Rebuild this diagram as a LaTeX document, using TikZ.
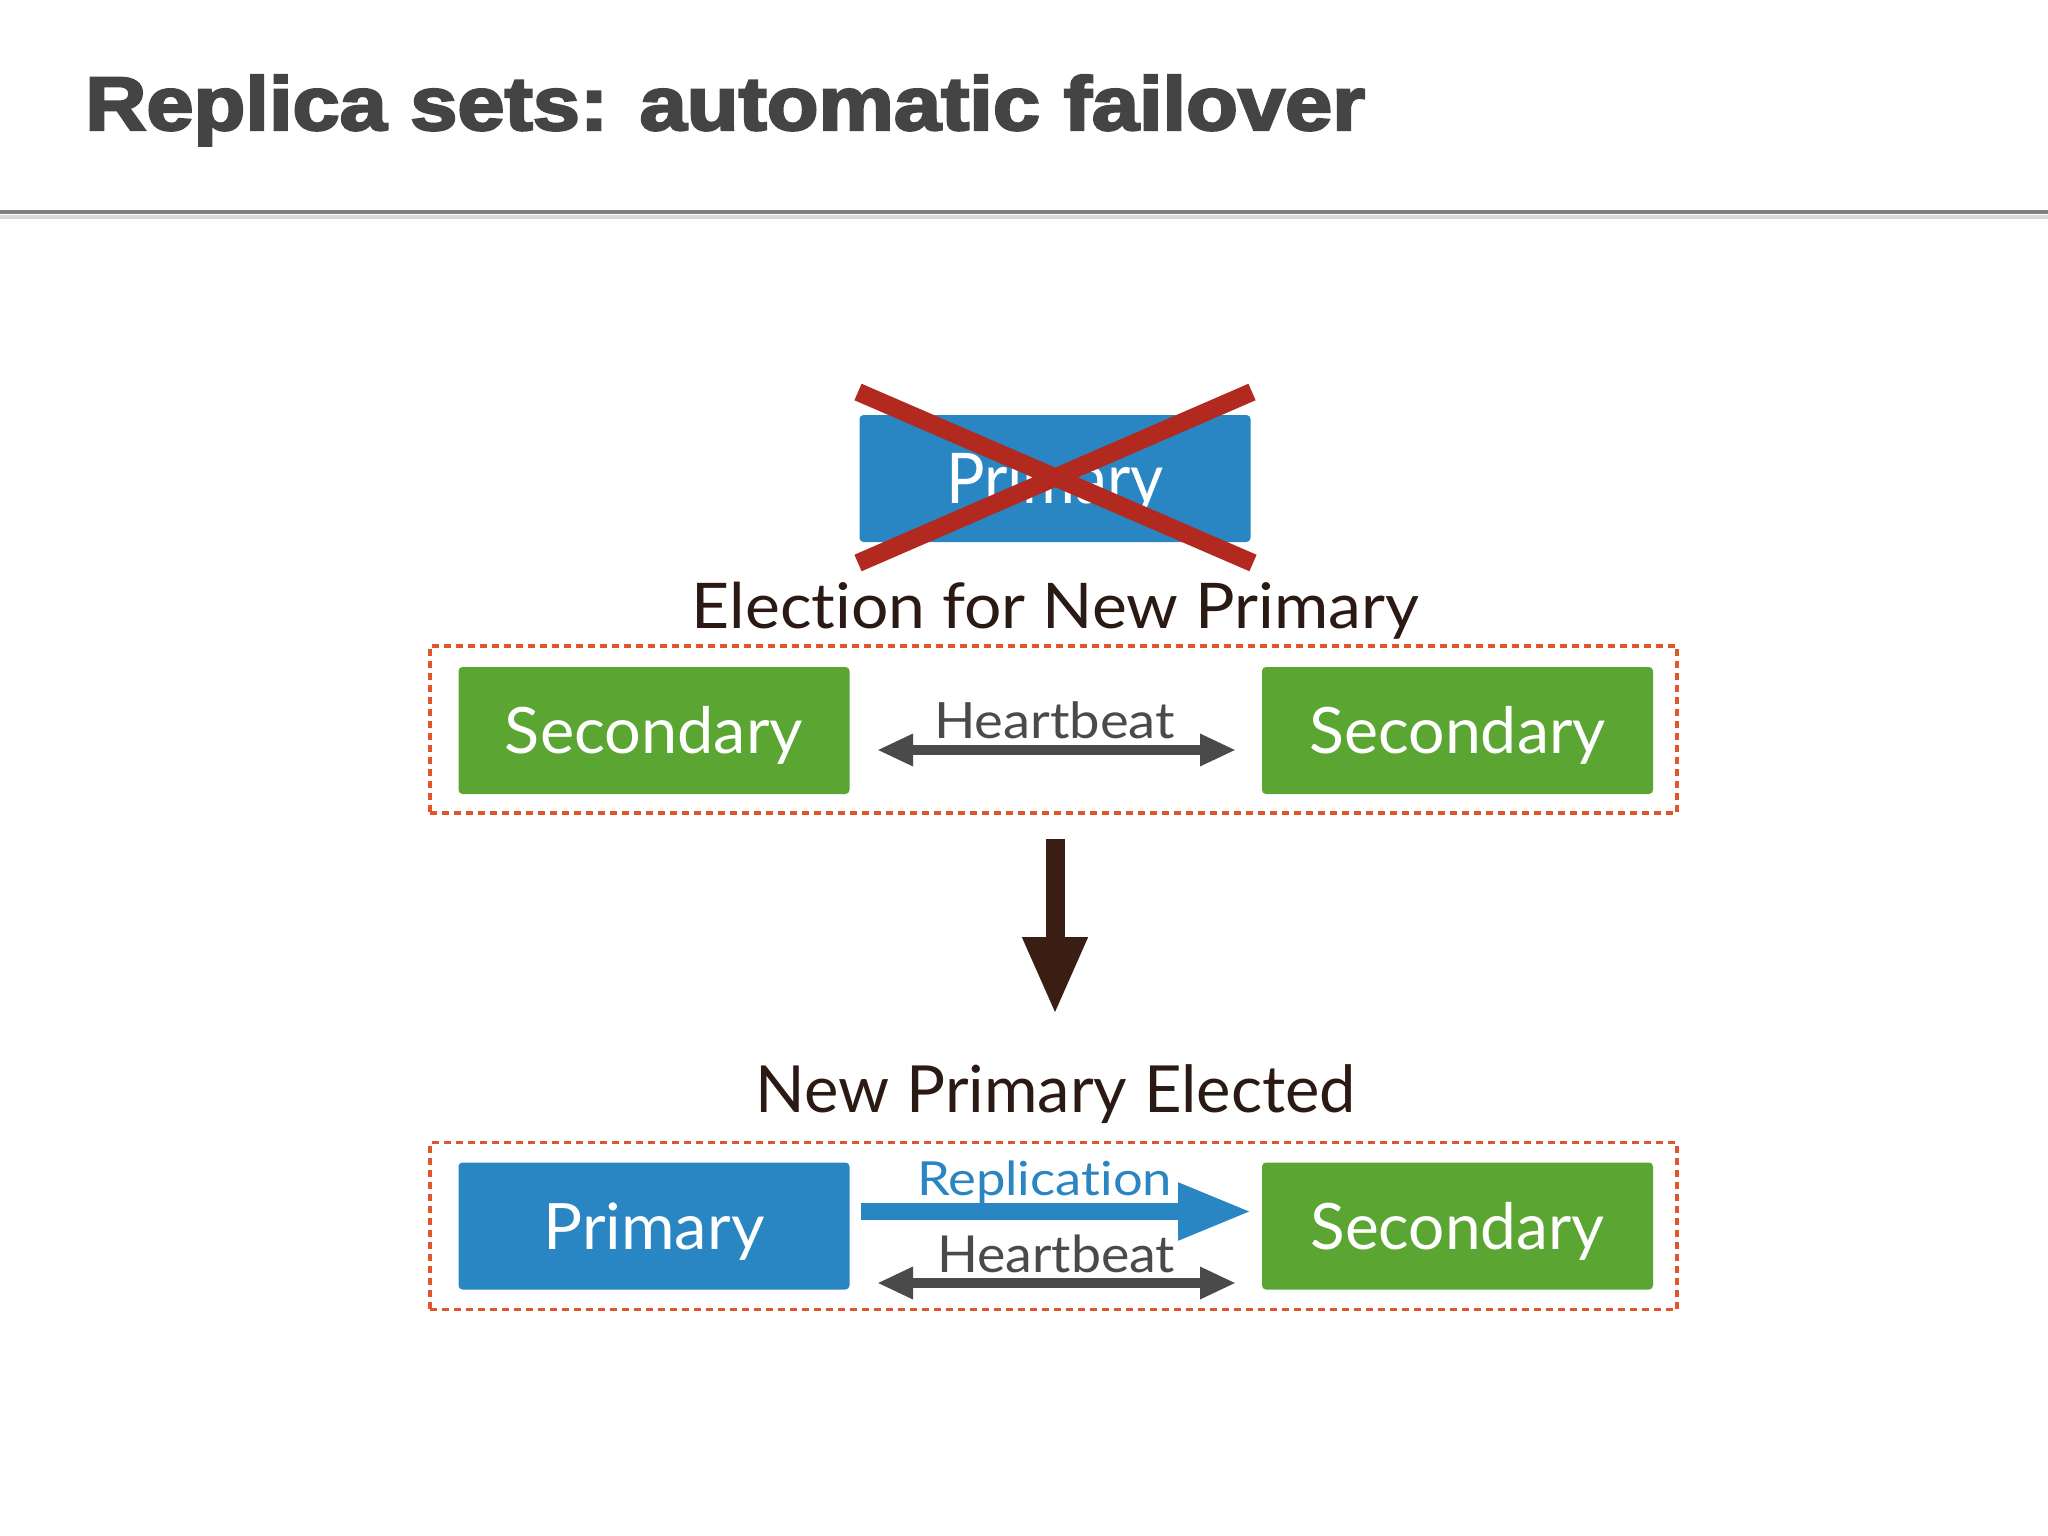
\documentclass[tikz,border=0pt]{standalone}
\usepackage{fontspec}
\usepackage{graphicx}
\usetikzlibrary{arrows.meta}
\setmainfont{Lato}[Ligatures=NoCommon]
\newfontfamily\titlefont{Liberation Sans}[BoldFeatures={FakeBold=3}]
\definecolor{mblue}{HTML}{2A86C3}
\definecolor{mgreen}{HTML}{5BA532}
\definecolor{xred}{HTML}{B2291F}
\definecolor{dashred}{HTML}{E0552C}
\definecolor{titlegray}{HTML}{444444}
\definecolor{hbgray}{HTML}{4A4A4A}
\definecolor{mdark}{HTML}{2B1A14}
\definecolor{arrowbrown}{HTML}{3A1E14}
\newcommand\fitw[2]{\resizebox{#1pt}{\height}{#2}}
\begin{document}
\begin{tikzpicture}[x=1pt,y=-1pt,
  box/.style={rectangle, rounded corners=4pt, minimum width=391pt, minimum height=127pt,
    inner sep=0pt, text=white, font=\fontsize{64}{64}\selectfont, text height=46pt, text depth=0pt},
  bluebox/.style={box, fill=mblue},
  greenbox/.style={box, fill=mgreen},
  group/.style={rectangle, draw=dashred, line width=3.6pt, dash pattern=on 7pt off 5pt,
    minimum width=1247pt, minimum height=167pt, inner sep=0pt},
  lbl/.style={inner sep=0pt, anchor=base},
  heading/.style={lbl, text=mdark},
  hbarrow/.style={draw=hbgray, line width=10pt,
    {Triangle[width=30pt,length=36pt]}-{Triangle[width=30pt,length=36pt]}},
  reparrow/.style={draw=mblue, line width=17pt, -{Triangle[width=53pt,length=74pt]}},
  downarrow/.style={draw=arrowbrown, line width=19pt, -{Triangle[width=60pt,length=78pt]}},
  crossline/.style={draw=xred, line width=18pt}
]
\useasboundingbox (0,0) rectangle (2048,1536);
\fill[white] (0,0) rectangle (2048,1536);

% title
\node[inner sep=0pt, anchor=base west, text=titlegray,
  font=\titlefont\bfseries\fontsize{76}{76}\selectfont] (title) at (85,130)
  {\fitw{1280}{Replica sets: automatic failover}};
\coordinate (rl) at (0,212);
\coordinate (rr) at (2048,212);
\coordinate (sl) at (0,217);
\coordinate (sr) at (2048,217);
\draw[line width=4pt, color=black!15] (sl) -- (sr);
\draw[line width=4.5pt, color=black!50] (rl) -- (rr);

% failed primary
\node[bluebox, minimum height=127pt, font=\fontsize{70}{70}\selectfont, text height=50pt] (oldp) at (1055,478.5)
  {\fitw{218}{Primary}};
\coordinate (x1) at (858,392);
\coordinate (x2) at (1253,563);
\coordinate (x3) at (858,563);
\coordinate (x4) at (1252,392);
\draw[crossline] (x1) -- (x2);
\draw[crossline] (x3) -- (x4);

% election group
\node[heading, font=\fontsize{63}{63}\selectfont] (elect) at (1055.5,628)
  {\fitw{727}{Election for New Primary}};
\node[group] (g1) at (1053.5,729.5) {};
\node[greenbox] (s1) at (654,730.5) {\fitw{298}{Secondary}};
\node[greenbox] (s2) at (1457.5,730.5) {\fitw{296}{Secondary}};
\node[lbl, text=hbgray, font=\fontsize{50}{50}\selectfont] (hb1) at (1054.5,738)
  {\fitw{241}{Heartbeat}};
\coordinate (h1a) at (877,750);
\coordinate (h1b) at (1236,750);
\draw[hbarrow] (h1a) -- (h1b);

% down arrow
\coordinate (da) at (1055,839);
\coordinate (db) at (1055,1015);
\draw[downarrow] (da) -- (db);

% elected group
\node[heading, font=\fontsize{65}{65}\selectfont] (elected) at (1056,1112)
  {\fitw{600}{New Primary Elected}};
\node[group] (g2) at (1053.5,1226) {};
\node[bluebox] (p2) at (654,1226) {\fitw{221}{Primary}};
\node[greenbox] (s3) at (1457.5,1226) {\fitw{294}{Secondary}};
\node[lbl, text=mblue, font=\fontsize{47}{47}\selectfont] (rep) at (1044.5,1195)
  {\fitw{255}{Replication}};
\coordinate (ra) at (861,1211.5);
\coordinate (rb) at (1252,1211.5);
\draw[reparrow] (ra) -- (rb);
\node[lbl, text=hbgray, font=\fontsize{51}{51}\selectfont] (hb2) at (1056,1272)
  {\fitw{238}{Heartbeat}};
\coordinate (h2a) at (877,1283);
\coordinate (h2b) at (1236,1283);
\draw[hbarrow] (h2a) -- (h2b);
\end{tikzpicture}
\end{document}
